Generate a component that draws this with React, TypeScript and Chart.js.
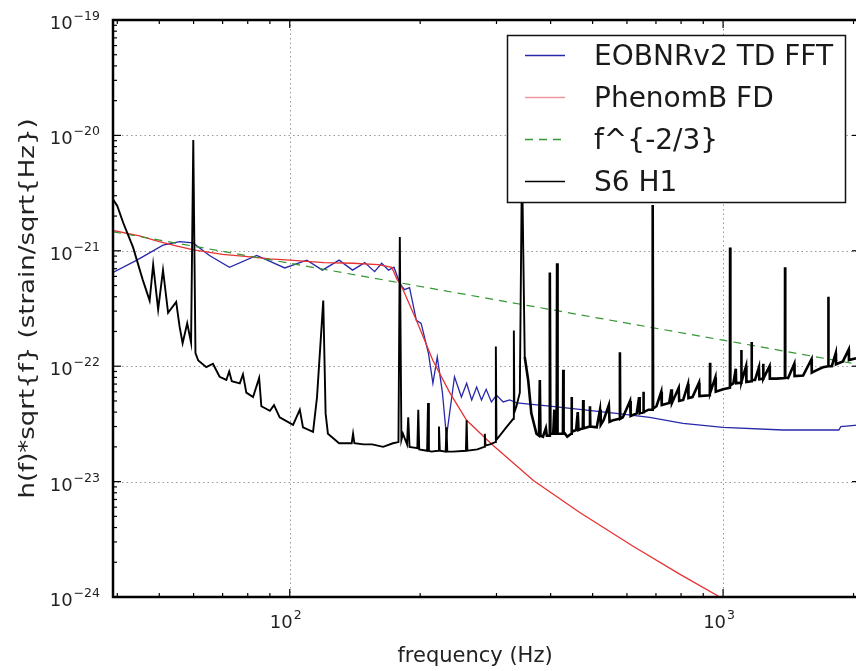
import { useEffect, useRef } from "react";
import { Chart, registerables } from "chart.js";

Chart.register(...registerables);

// ---------------- data ----------------
const X_MIN = 39.1;
const X_MAX = 2070;
const Y_MIN = 1e-24;
const Y_MAX = 1e-19;

const xMajorTicks = [100, 1000];
const xTickExponents = ["2", "3"];
const xMinorTicks = [40, 50, 60, 70, 80, 90, 200, 300, 400, 500, 600, 700, 800, 900, 2000];
const yMajorTicks = [1e-19, 1e-20, 1e-21, 1e-22, 1e-23, 1e-24];
const yTickExponents = ["\u221219", "\u221220", "\u221221", "\u221222", "\u221223", "\u221224"];
const yMinorMultipliers = [2, 3, 4, 5, 6, 7, 8, 9];

const xTitle = "frequency (Hz)";
const yTitle = "h(f)*sqrt{f} (strain/sqrt{Hz})";
const legendLabels = ["EOBNRv2 TD FFT", "PhenomB FD", "f^{-2/3}", "S6 H1"];

// EOBNRv2 TD FFT (blue)
const eobFreq = [39.1, 44.4, 51, 55.7, 59.8, 65.3, 72.6, 83.9, 97.4, 109.5, 119, 130, 139.6, 149, 157, 163, 169, 174, 179.6, 184, 189, 196, 201, 209, 214, 219, 225, 230, 240, 249, 256, 263, 270, 277, 284, 292, 300, 311, 322, 334, 398, 567, 677, 808, 1000, 1376, 1850, 1870, 2070];
const eobStrain = [6.5e-22, 8.3e-22, 1.12e-21, 1.2e-21, 1.17e-21, 9.1e-22, 7.2e-22, 9.1e-22, 7.1e-22, 8.3e-22, 6.8e-22, 8.3e-22, 6.8e-22, 7.9e-22, 6.6e-22, 7.8e-22, 6.8e-22, 7.2e-22, 5.2e-22, 4.6e-22, 4.8e-22, 2.5e-22, 2.35e-22, 1.29e-22, 7.1e-23, 1.2e-22, 6.0e-23, 2.45e-23, 8.1e-23, 5.4e-23, 7.1e-23, 5.1e-23, 6.6e-23, 5.1e-23, 6.3e-23, 4.9e-23, 5.6e-23, 4.9e-23, 5.1e-23, 4.8e-23, 4.5e-23, 3.9e-23, 3.6e-23, 3.2e-23, 2.95e-23, 2.8e-23, 2.8e-23, 3.0e-23, 3.1e-23];

// PhenomB FD (red)
const phenomFreq = [39.1, 45, 50, 55, 60, 70, 80, 90, 100, 120, 140, 160, 172, 177, 180, 196, 214, 234, 256, 293, 365, 467, 620, 794, 983, 1100];
const phenomStrain = [1.5e-21, 1.35e-21, 1.2e-21, 1.1e-21, 1.02e-21, 9.3e-22, 8.9e-22, 8.5e-22, 8.3e-22, 7.9e-22, 7.8e-22, 7.6e-22, 7.2e-22, 5.6e-22, 5.2e-22, 2.5e-22, 1.12e-22, 5.9e-23, 3.4e-23, 2.1e-23, 1.02e-23, 5.4e-24, 2.75e-24, 1.58e-24, 1.0e-24, 7.8e-25];

// f^{-2/3} reference (green dashed)
const powFreq = [39.1, 100, 1000, 2070];
const powStrain = [1.46e-21, 7.8e-22, 1.68e-22, 1.03e-22];

// S6 H1 noise curve (black)
const s6Freq = [
  39.1, 40.0, 41.3, 43.5, 45.8, 47.5, 48.4, 49.7, 51.0, 52.4, 54.7, 55.7, 56.6, 58.0, 59.2, 59.9, 60.6,
  61.5, 64.2, 66.5, 68.9, 71.4, 72.5, 73.5, 76.7, 78, 79.4, 82.3, 85.0, 86.0, 90, 92, 94.8, 101.8, 105.5, 107.3, 113.2,
  115.6, 119.5, 121, 122.5, 130, 139, 140, 141, 148, 155, 164.3, 173, 178.2, 179.5, 181, 182.5, 186.5,
  187.7, 189, 197, 198, 199, 207.5, 208.5, 209.5, 212, 220, 221, 222, 229, 230, 231, 238, 255, 256, 257, 271,
  281, 282, 283, 289.6, 298, 299, 300, 316, 328, 329, 330, 333.6, 339.6, 343.5, 348.6, 355, 361, 371,
  376, 377.7, 379, 384, 390, 392, 397, 398.3, 399.5, 405.5, 408, 410, 413, 414, 415, 421.5, 427, 427.8, 428.6, 437,
  446, 447, 448, 458, 462, 464, 474.5, 475.6, 476.5, 484, 492, 493, 494, 511, 520, 522, 530, 545, 547, 557,
  577, 578, 579, 587, 610, 612, 632, 640, 642, 654, 655, 656, 673, 686.5, 688, 689.5, 702, 720, 722, 751,
  760, 762, 790, 792, 809, 830, 832, 850, 880, 882, 932, 933, 934, 960, 962, 1000, 1037, 1038, 1039.5, 1056,
  1070, 1072, 1101, 1102, 1103, 1130, 1132, 1163, 1164, 1165, 1185, 1210, 1212, 1237, 1238, 1239, 1280, 1282, 1330, 1389,
  1390, 1391.5, 1413, 1460, 1462, 1530, 1600, 1602, 1650, 1700, 1749, 1750, 1751, 1782, 1820, 1822, 1890, 1950, 1952, 2028,
  2070,
];
const s6Strain = [
  2.8e-21, 2.45e-21, 1.74e-21, 1.07e-21, 5.6e-22, 3.7e-22, 7.6e-22, 3.1e-22, 6.8e-22, 2.9e-22, 3.6e-22, 2.2e-22, 1.58e-22, 2.35e-22, 1.6e-22, 9.1e-21, 1.3e-22,
  1.12e-22, 9.8e-23, 1.05e-22, 8.1e-23, 7.6e-23, 9.0e-23, 7.4e-23, 7.1e-23, 8.5e-23, 5.9e-23, 5.4e-23, 7.9e-23, 4.5e-23, 4.1e-23, 4.6e-23, 3.6e-23, 3.1e-23, 4.2e-23, 2.95e-23, 2.7e-23,
  5.4e-23, 3.7e-22, 3.9e-23, 2.6e-23, 2.15e-23, 2.15e-23, 2.6e-23, 2.15e-23, 2.1e-23, 2.1e-23, 2.0e-23, 2.15e-23, 2.2e-23, 1.32e-21, 2.3e-23, 2.6e-23, 2.1e-23,
  3.6e-23, 2.0e-23, 1.95e-23, 4.2e-23, 1.9e-23, 1.85e-23, 4.8e-23, 1.85e-23, 1.82e-23, 1.85e-23, 3.0e-23, 1.85e-23, 1.82e-23, 2.95e-23, 1.82e-23, 1.82e-23, 1.85e-23, 3.4e-23, 1.85e-23, 1.9e-23,
  2.0e-23, 2.6e-23, 2.05e-23, 2.1e-23, 2.2e-23, 1.48e-22, 2.3e-23, 2.95e-23, 3.5e-23, 2.04e-22, 4.0e-23, 4.5e-23, 5.9e-23, 6.3e-21, 1.2e-22, 7.6e-23, 3.9e-23, 2.6e-23,
  2.5e-23, 7.6e-23, 2.5e-23, 2.45e-23, 2.9e-23, 2.5e-23, 2.5e-23, 6.5e-22, 2.6e-23, 2.6e-23, 4.2e-23, 2.6e-23, 2.6e-23, 7.8e-22, 2.6e-23, 2.6e-23, 2.6e-23, 9.3e-23, 2.7e-23, 2.45e-23,
  2.6e-23, 5.4e-23, 2.7e-23, 2.8e-23, 4.0e-23, 2.8e-23, 2.9e-23, 5.1e-23, 2.9e-23, 2.95e-23, 3.0e-23, 4.5e-23, 3.0e-23, 2.95e-23, 4.2e-23, 3.1e-23, 3.4e-23, 4.6e-23, 3.3e-23, 3.4e-23,
  3.5e-23, 1.32e-22, 3.5e-23, 3.6e-23, 5.0e-23, 3.7e-23, 3.9e-23, 5.4e-23, 3.9e-23, 4.0e-23, 6.0e-23, 4.0e-23, 4.2e-23, 4.2e-23, 2.5e-21, 4.3e-23, 4.5e-23, 6.0e-23, 4.6e-23, 4.8e-23,
  6.3e-23, 4.8e-23, 6.5e-23, 5.0e-23, 5.1e-23, 7.0e-23, 5.3e-23, 5.4e-23, 7.2e-23, 5.5e-23, 5.6e-23, 1.07e-22, 5.9e-23, 8.0e-23, 6.0e-23, 6.3e-23, 6.5e-23, 1.07e-21, 6.8e-23, 7.1e-23,
  9.5e-23, 7.1e-23, 7.2e-23, 1.38e-22, 7.3e-23, 1.0e-22, 7.3e-23, 7.4e-23, 1.62e-22, 7.6e-23, 7.6e-23, 9.8e-23, 7.7e-23, 7.8e-23, 1.05e-22, 7.8e-23, 1.0e-22, 7.8e-23, 7.8e-23, 7.9e-23,
  7.2e-22, 8.0e-23, 7.9e-23, 1.05e-22, 8.2e-23, 8.3e-23, 1.15e-22, 8.8e-23, 9.3e-23, 9.8e-23, 1.0e-22, 4.0e-22, 1.0e-22, 1.0e-22, 1.3e-22, 1.04e-22, 1.1e-22, 1.4e-22, 1.13e-22, 1.17e-22,
  1.2e-22,
];

// ---------------- style ----------------
const FONT = '"DejaVu Sans", "Liberation Sans", sans-serif';
const COLORS = {
  eob: "rgb(40,40,170)",
  phenom: "rgb(230,50,50)",
  pow: "rgb(50,150,50)",
  s6: "rgb(0,0,0)",
  legendPhenom: "rgb(235,150,160)",
};

const CANVAS_W = 870;
const CANVAS_H = 671;

function pts(xs: number[], ys: number[]) {
  return xs.map((x, i) => ({ x, y: ys[i] }));
}

function drawPow(ctx: CanvasRenderingContext2D, exp: string, x: number, baseY: number, align: "right" | "center") {
  const baseFont = `18px ${FONT}`;
  const supFont = `12.5px ${FONT}`;
  ctx.font = baseFont;
  const bw = ctx.measureText("10").width;
  ctx.font = supFont;
  const ew = ctx.measureText(exp).width;
  const total = bw + 1 + ew;
  const x0 = align === "right" ? x - total : x - total / 2;
  ctx.textAlign = "left";
  ctx.textBaseline = "alphabetic";
  ctx.font = baseFont;
  ctx.fillText("10", x0, baseY);
  ctx.font = supFont;
  ctx.fillText(exp, x0 + bw + 1, baseY - 9);
}

const decorPlugin = {
  id: "decor",
  beforeDatasetsDraw(chart: any) {
    const { ctx, chartArea: a, scales } = chart;
    const xs = scales.x;
    const ys = scales.y;
    ctx.save();
    ctx.strokeStyle = "rgba(0,0,0,0.4)";
    ctx.lineWidth = 1;
    ctx.setLineDash([1.5, 3]);
    for (const v of xMajorTicks) {
      const px = Math.round(xs.getPixelForValue(v)) + 0.5;
      ctx.beginPath();
      ctx.moveTo(px, a.top);
      ctx.lineTo(px, a.bottom);
      ctx.stroke();
    }
    for (const v of yMajorTicks) {
      if (v === Y_MIN || v === Y_MAX) continue;
      const py = Math.round(ys.getPixelForValue(v)) + 0.5;
      ctx.beginPath();
      ctx.moveTo(a.left, py);
      ctx.lineTo(a.right, py);
      ctx.stroke();
    }
    ctx.restore();
  },
  afterDatasetsDraw(chart: any) {
    const { ctx, chartArea: a, scales } = chart;
    const xs = scales.x;
    const ys = scales.y;
    ctx.save();
    ctx.setLineDash([]);
    // frame
    ctx.strokeStyle = "#000";
    ctx.lineWidth = 2.5;
    ctx.strokeRect(a.left, a.top, a.right - a.left, a.bottom - a.top);

    // ticks (inward, all sides)
    ctx.lineWidth = 1.2;
    const tick = (x1: number, y1: number, x2: number, y2: number) => {
      ctx.beginPath();
      ctx.moveTo(x1, y1);
      ctx.lineTo(x2, y2);
      ctx.stroke();
    };
    for (const v of xMajorTicks) {
      const px = xs.getPixelForValue(v);
      tick(px, a.bottom, px, a.bottom - 8);
      tick(px, a.top, px, a.top + 8);
    }
    for (const v of xMinorTicks) {
      const px = xs.getPixelForValue(v);
      tick(px, a.bottom, px, a.bottom - 4);
      tick(px, a.top, px, a.top + 4);
    }
    for (const v of yMajorTicks) {
      const py = ys.getPixelForValue(v);
      tick(a.left, py, a.left + 8, py);
      tick(a.right, py, a.right - 8, py);
    }
    for (const v of yMajorTicks) {
      if (v === Y_MAX) continue;
      for (const m of yMinorMultipliers) {
        const py = ys.getPixelForValue(v * m);
        tick(a.left, py, a.left + 4, py);
        tick(a.right, py, a.right - 4, py);
      }
    }

    // tick labels
    ctx.fillStyle = "#222";
    xMajorTicks.forEach((v, i) => {
      const px = xs.getPixelForValue(v);
      drawPow(ctx, xTickExponents[i], px - 4, a.bottom + 31, "center");
    });
    yMajorTicks.forEach((v, i) => {
      const py = ys.getPixelForValue(v);
      drawPow(ctx, yTickExponents[i], a.left - 13, py + 9, "right");
    });

    // axis titles
    ctx.textAlign = "center";
    ctx.textBaseline = "alphabetic";
    ctx.font = `21px ${FONT}`;
    ctx.fillText(xTitle, 475, 662);

    ctx.save();
    ctx.translate(34, (a.top + a.bottom) / 2);
    ctx.rotate(-Math.PI / 2);
    ctx.scale(1.18, 1);
    ctx.font = `22px ${FONT}`;
    ctx.fillText(yTitle, 0, 0);
    ctx.restore();

    // legend
    const L = 507, T = 35, R = 845, B = 202;
    ctx.fillStyle = "#fff";
    ctx.fillRect(L, T, R - L, B - T);
    ctx.strokeStyle = "#111";
    ctx.lineWidth = 1.5;
    ctx.strokeRect(L + 0.5, T + 0.5, R - L, B - T);
    const rows = [55, 97, 139, 181];
    const colors = [COLORS.eob, COLORS.legendPhenom, COLORS.pow, COLORS.s6];
    rows.forEach((ry, i) => {
      ctx.strokeStyle = colors[i];
      ctx.lineWidth = 1.5;
      ctx.setLineDash(i === 2 ? [8, 6] : []);
      ctx.beginPath();
      ctx.moveTo(525, ry + 0.5);
      ctx.lineTo(565, ry + 0.5);
      ctx.stroke();
      ctx.setLineDash([]);
      ctx.fillStyle = "#1a1a1a";
      ctx.font = `28px ${FONT}`;
      ctx.textAlign = "left";
      ctx.textBaseline = "alphabetic";
      ctx.fillText(legendLabels[i], 594, ry + 10);
    });
    ctx.restore();
  },
};

export default function App() {
  const ref = useRef<HTMLCanvasElement | null>(null);
  useEffect(() => {
    if (!ref.current) return;
    const chart = new Chart(ref.current, {
      type: "line",
      data: {
        datasets: [
          {
            label: legendLabels[3],
            data: pts(s6Freq, s6Strain),
            borderColor: COLORS.s6,
            borderWidth: 2,
            segment: {
              borderWidth: (c: any) => (c.p0.parsed.x >= 345 ? 2.6 : 1.9),
            },
            order: 0,
          },
          {
            label: legendLabels[2],
            data: pts(powFreq, powStrain),
            borderColor: COLORS.pow,
            borderWidth: 1.2,
            borderDash: [8, 6],
            order: 1,
          },
          {
            label: legendLabels[1],
            data: pts(phenomFreq, phenomStrain),
            borderColor: COLORS.phenom,
            borderWidth: 1.3,
            order: 2,
          },
          {
            label: legendLabels[0],
            data: pts(eobFreq, eobStrain),
            borderColor: COLORS.eob,
            borderWidth: 1.3,
            order: 3,
          },
        ],
      },
      options: {
        responsive: false,
        animation: false,
        devicePixelRatio: 1,
        layout: { padding: { left: 113, top: 20, right: CANVAS_W - 860, bottom: CANVAS_H - 597 } },
        elements: { point: { radius: 0 }, line: { tension: 0, fill: false } },
        scales: {
          x: { type: "logarithmic", min: X_MIN, max: X_MAX, display: false },
          y: { type: "logarithmic", min: Y_MIN, max: Y_MAX, display: false },
        },
        plugins: { legend: { display: false }, tooltip: { enabled: false } },
        events: [],
      },
      plugins: [decorPlugin],
    });
    return () => chart.destroy();
  }, []);
  return (
    <div style={{ position: "fixed", left: 0, top: 0, width: 856, height: 671, overflow: "hidden", background: "#fff" }}>
      <canvas ref={ref} width={CANVAS_W} height={CANVAS_H} style={{ width: CANVAS_W, height: CANVAS_H, display: "block" }} />
    </div>
  );
}
